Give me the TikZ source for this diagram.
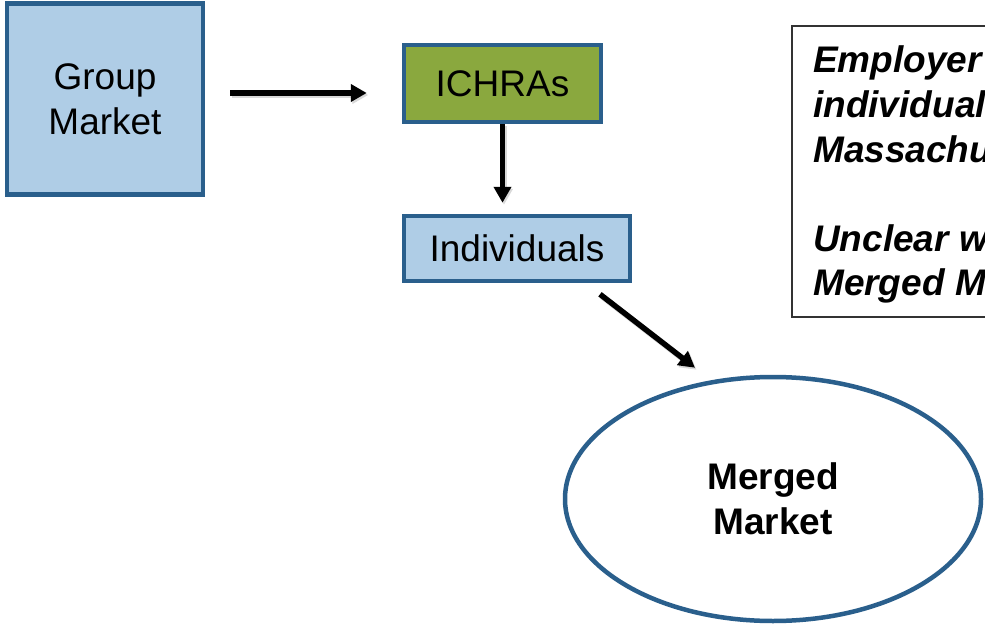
\documentclass[tikz,border=0pt]{standalone}
\usepackage{fontspec}
\setmainfont{Liberation Sans}
\usetikzlibrary{arrows.meta,shapes.geometric}
\definecolor{bordblue}{RGB}{42,95,140}
\definecolor{lightblue}{RGB}{175,205,230}
\definecolor{olive}{RGB}{138,168,62}
\definecolor{notegray}{RGB}{50,50,50}
\begin{document}
\begin{tikzpicture}[x=1pt,y=-1pt,
  box/.style={draw=bordblue, line width=4.5pt, fill=lightblue, inner sep=0pt,
    align=center, font=\fontsize{37}{45}\selectfont},
  arr/.style={line width=5.5pt, -{Triangle[length=16pt,width=17pt]},
    preaction={draw=black!15, line width=5.5pt, transform canvas={shift={(1.5pt,-2pt)}}}},
  notetext/.style={inner sep=0pt, anchor=base west,
    font=\fontsize{37}{45}\selectfont\bfseries\itshape}]
\useasboundingbox (0,0) rectangle (985,626);
\clip (0,0) rectangle (985,626);
\fill[white] (0,0) rectangle (985,626);

\node[box, minimum width=196pt, minimum height=191pt] (gm) at (105,99) {Group\\Market};
\node[box, fill=olive, minimum width=197pt, minimum height=77pt] (ich) at (502.5,83.5) {ICHRAs};
\node[box, minimum width=226pt, minimum height=65pt] (ind) at (517,248.5) {Individuals};
\node[ellipse, draw=bordblue, line width=4.5pt, fill=white, inner sep=0pt,
  minimum width=416pt, minimum height=244pt, align=center,
  font=\fontsize{37}{45}\selectfont\bfseries] (mm) at (773,499) {Merged\\Market};

\node[draw=notegray, line width=1.5pt, minimum width=320pt, minimum height=291pt,
  inner sep=0pt] (note) at (952,171.5) {};
\node[notetext] (t1) at (813,73) {Employer};
\node[notetext] (t2) at (813,117.5) {individual};
\node[notetext] (t3) at (813,162) {Massachu};
\node[notetext] (t4) at (813,251) {Unclear w};
\node[notetext] (t5) at (813,295.5) {Merged M};

\coordinate (a1s) at ([shift={(25,-6)}]gm.east);
\draw[arr, shorten >=35pt] (a1s) -- (a1s -| ich.west);
\draw[arr, shorten >=11pt] (ich.south) -- (ich.south |- ind.north);
\coordinate (a3s) at ([shift={(83,11)}]ind.south);
\coordinate (a3e) at ([shift={(-78,-7)}]mm.north);
\draw[arr] (a3s) -- (a3e);
\end{tikzpicture}
\end{document}
